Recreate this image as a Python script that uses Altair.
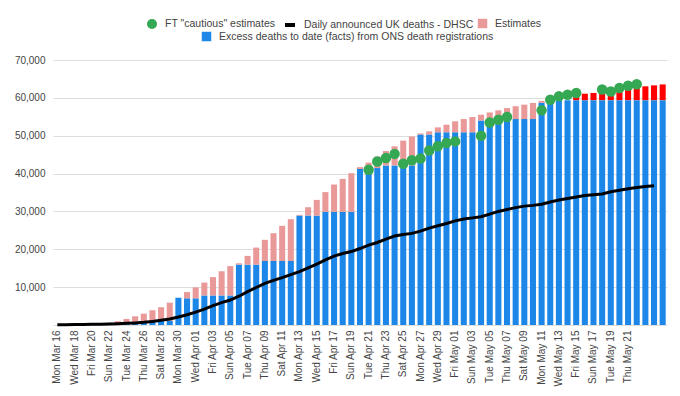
import altair as alt
import pandas as pd

# ---- data ----
dates = pd.date_range("2020-03-16", "2020-05-25", freq="D")
labels = [d.strftime("%a %b %d") for d in dates]

excess_facts = [
    0, 0, 0, 0, 100, 150, 250, 400, 500, 800, 1000, 1100, 1100, 1100,
    7200, 7050, 7050, 7800, 7800, 7800, 7800,
    15950, 15950, 15950, 16900, 16900, 16900, 16900,
    28900, 28900, 28900, 29900, 29900, 29900, 29900,
    41200, 41300, 41450, 42150, 42150, 42150, 42150,
    50300, 50300, 50900, 50900, 50900, 50900, 50900,
    54000, 54000, 54000, 54000, 54400, 54400, 54400,
    58700, 59400, 59400, 59400, 59400, 59400, 59400,
    59400, 59400, 59400, 59400, 59400, 59400, 59400, 59400,
]

estimates_top = [
    None, None, None, None, 200, 350, 600, 1000, 1600, 2300, 3000, 3900, 4700, 5900,
    None, 8700, 9950, 11200, 12650, 14200, 15550,
    16300, 18250, 20450, 22500, 24250, 26200, 27950,
    29100, 31100, 33050, 35100, 37100, 38600, 40100,
    41700, 42900, 44500, 45950, 47200, 48700, 49800,
    50600, 51150, 52200, 52900, 53800, 54400, 54950,
    55550, 56150, 56700, 57300, 57800, 58200, 58650,
    59200, None, None, None, None, None, None,
    None, None, None, None, None, None, None, None,
]

late_estimates_top = [None] * 60 + [
    60600, 61100, 61300, 61600, 61800, 62300, 62800, 63000, 63050, 63300, 63550,
]

ft_cautious = [None] * 36 + [
    41000, 43200, 44100, 45200, 42600, 43500, 44000, 46100, 47200, 48100, 48500,
    None, None, 50000, 53500, 54200, 54950, None, None, None,
    56700, 59500, 60400, 60800, 61300, None, None,
    62200, 61700, 62600, 63200, 63600, None, None, None,
]

dhsc_deaths = [
    50, 70, 100, 140, 180, 230, 290, 350, 450, 550, 700, 950, 1250, 1600,
    2100, 2700, 3400, 4200, 5100, 5900, 6600,
    7600, 8800, 9900, 11000, 11800, 12500, 13300,
    14100, 15100, 16100, 17200, 18200, 18900, 19400,
    20200, 21100, 21800, 22700, 23500, 23900, 24200,
    24800, 25600, 26200, 26800, 27500, 28000, 28300,
    28600, 29300, 30000, 30500, 31000, 31400, 31600,
    31900, 32500, 33000, 33400, 33800, 34200, 34400,
    34600, 35200, 35600, 36000, 36300, 36600, 36800, None,
]

axis_labels = labels[0:67:2]
y_ticks = [0, 10000, 20000, 30000, 40000, 50000, 60000, 70000]

FT_NAME = 'FT "cautious" estimates'
DHSC_NAME = "Daily announced UK deaths - DHSC"
EST_NAME = "Estimates"
ONS_NAME = "Excess deaths to date (facts) from ONS death registrations"

BLUE = "#1c87e9"
PINK = "#ea9999"
RED = "#ff0000"
GREEN = "#34a853"
FONT = "Liberation Sans"
TXT = "#444444"

df = pd.DataFrame({
    "label": labels,
    "blue": excess_facts,
    "est": estimates_top,
    "red": late_estimates_top,
    "ft": ft_cautious,
    "dhsc": dhsc_deaths,
})

x_enc = alt.X(
    "label:N",
    scale=alt.Scale(domain=labels, paddingInner=0.3, paddingOuter=0.15),
    axis=alt.Axis(values=axis_labels, labelAngle=-90, title=None, ticks=False,
                  domain=False, labelPadding=5, labelFontSize=10,
                  labelColor=TXT, labelFont=FONT, labelOverlap=False),
)

y_scale = alt.Scale(domain=[0, 70000], nice=False, zero=True)
y_axis = alt.Axis(values=y_ticks,
                  labelExpr="datum.value == 0 ? '' : format(datum.value, ',')",
                  title=None, ticks=False, domain=False, grid=True,
                  gridColor="#dddddd", gridWidth=1, labelOverlap=False,
                  labelFontSize=10, labelColor=TXT, labelFont=FONT, labelPadding=8)


def Y(field):
    return alt.Y(field, scale=y_scale, axis=y_axis)


def leg(x, y, **kw):
    return alt.Legend(orient="none", legendX=x, legendY=y, title=None,
                      labelFontSize=10.5, labelColor=TXT, labelFont=FONT,
                      labelLimit=0, padding=0, **kw)


base = alt.Chart(df)

blue_bars = base.mark_bar().transform_calculate(s=f"'{ONS_NAME}'").encode(
    x=x_enc,
    y=Y("blue:Q"),
    color=alt.Color("s:N", scale=alt.Scale(domain=[ONS_NAME], range=[BLUE]),
                    legend=leg(148, -29, symbolType="square", symbolSize=90,
                               labelOffset=7)),
)

pink_bars = base.mark_bar().transform_filter("datum.est != null").transform_calculate(
    s2=f"'{EST_NAME}'").encode(
    x=x_enc,
    y=Y("blue:Q"),
    y2="est:Q",
    fill=alt.Fill("s2:N", scale=alt.Scale(domain=[EST_NAME], range=[PINK]),
                  legend=leg(424, -42, symbolType="square", symbolSize=90,
                             labelOffset=7)),
)

red_bars = base.mark_bar(color=RED).transform_filter("datum.red != null").encode(
    x=x_enc,
    y=Y("blue:Q"),
    y2="red:Q",
)

line = base.mark_line(strokeWidth=3).transform_filter("datum.dhsc != null").transform_calculate(
    s3=f"'{DHSC_NAME}'").encode(
    x=x_enc,
    y=Y("dhsc:Q"),
    stroke=alt.Stroke("s3:N", scale=alt.Scale(domain=[DHSC_NAME], range=["#000000"]),
                      legend=leg(230, -42, symbolType="stroke", symbolSize=100,
                                 symbolStrokeWidth=4, labelOffset=7)),
)

points = base.mark_point(filled=True, size=110, color=GREEN, opacity=1).transform_filter(
    "datum.ft != null").transform_calculate(s4=f"'{FT_NAME.replace(chr(34), chr(92)+chr(34))}'").encode(
    x=x_enc,
    y=Y("ft:Q"),
    shape=alt.Shape("s4:N", scale=alt.Scale(domain=[FT_NAME], range=["circle"]),
                    legend=leg(93, -42, symbolFillColor=GREEN, symbolStrokeColor=GREEN,
                               symbolSize=100, labelOffset=7)),
)

chart = alt.layer(blue_bars, pink_bars, red_bars, line, points).properties(
    width=614, height=265,
    autosize=alt.AutoSizeParams(type="none"),
    padding={"left": 45, "top": 52, "right": 5, "bottom": 71},
).configure_view(stroke=None)

chart.save("out.html", embed_options={"renderer": "svg", "actions": False})
